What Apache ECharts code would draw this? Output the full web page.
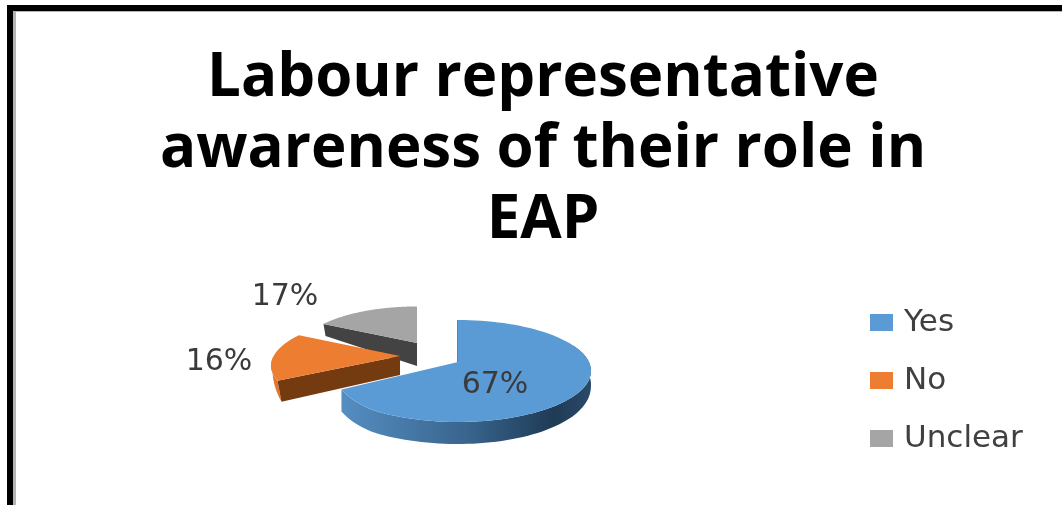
<!DOCTYPE html>
<html>
<head>
<meta charset="utf-8">
<style>html,body{margin:0;padding:0;background:#fff}#chart{width:1062px;height:505px}</style>
<script src="https://cdn.jsdelivr.net/npm/echarts@6/dist/echarts.min.js"></script>
</head>
<body>
<div id="chart"></div>
<script>
// Survey shares, in percent
const sliceNames = ['Yes', 'No', 'Unclear'];
const sliceShares = [67, 16, 17];
const chartTitle = 'Labour representative\nawareness of their role in\nEAP';

// Look of each exploded wedge: where its tip sits, its disc's shape, its colours
const wedgeLook = [
  { tipX: 458, tipY: 362, drop: 9, radiusY: 51, scale: 1, widen: 0, tilt: 0, endLift: 6, top: '#5b9bd5', z: 1, labelX: 495, labelY: 385,
    tipDepth: 21, edgeDepth: 22, lean: 0, rimTaper: 1,
    rim: { type: 'linear', x: 0, y: 0, x2: 1, y2: 0, colorStops: [
      { offset: 0, color: '#558ec2' }, { offset: 0.5, color: '#39658e' }, { offset: 0.85, color: '#1f3b56' }, { offset: 1, color: '#2a4a68' }] },
    cut: '#2f5577' },
  { tipX: 400, tipY: 356, drop: 0, radiusY: 49.4, scale: 0.95, widen: 0.2, tilt: 0.176, endLift: 0, top: '#ed7d31', z: 3, labelX: 219, labelY: 362,
    tipDepth: 19, edgeDepth: 21, lean: 4, rimTaper: 0.5,
    rim: '#e0752c', cut: '#743b10' },
  { tipX: 417, tipY: 343, drop: 0, radiusY: 49.4, scale: 0.87, widen: 0.176, tilt: 0.176, endLift: 0, top: '#a5a5a5', z: 2, labelX: 285, labelY: 297,
    tipDepth: 23, edgeDepth: 12, lean: 2, rimTaper: 0,
    rim: '#8a8a8a', cut: '#434343' }
];

// Tilted-disc projection
const radiusX = 133;
const total = sliceShares.reduce((a, b) => a + b, 0);
const startShare = sliceShares.map((_, i) => sliceShares.slice(0, i).reduce((a, b) => a + b, 0));

function project(look, theta, sweepEnd) {
  const u = Math.sin(theta), v = -Math.cos(theta);
  const sx = look.scale / (1 - look.widen * v);
  const sy = look.scale / (1 - look.tilt * v);
  // The last stretch of the arc flattens a little toward the wedge's far corner
  const t = Math.max(0, (theta - (sweepEnd - 0.45)) / 0.45);
  return [look.tipX + radiusX * u * sx, look.tipY + look.drop + look.radiusY * v * sy - look.endLift * t * t];
}

// Wall height along the big wedge: shallow at its right silhouette, full at the front
function rimDepth(look, theta) {
  if (theta >= Math.PI) return look.edgeDepth;
  return 13 + (look.edgeDepth - 13) * Math.sqrt(Math.max(0, -Math.cos(theta)));
}

function renderWedge(index) {
  return function (params, api) {
    const share = api.value(0);
    const look = wedgeLook[index];
    const a0 = startShare[index] / total * Math.PI * 2;
    const a1 = a0 + share / total * Math.PI * 2;
    const steps = 96;
    const angleAt = i => a0 + (a1 - a0) * i / steps;
    const arc = [];
    for (let i = 0; i <= steps; i++) arc.push(project(look, angleAt(i), a1));
    const tip = [look.tipX, look.tipY];
    const first = arc[0];
    const children = [];

    if (index === 0) {
      // The wall follows the front of the arc, up to the far end of the wedge
      const from = Math.round(steps * 0.25);
      const along = arc.slice(from);
      const under = along.map((p, i) => [p[0], p[1] + rimDepth(look, angleAt(from + i))]);
      children.push({ type: 'polygon', shape: { points: along.concat(under.reverse()) }, style: { fill: look.rim } });
      children.push({ type: 'line', shape: { x1: first[0], y1: first[1], x2: tip[0], y2: tip[1] },
        style: { stroke: look.cut, lineWidth: 1.5 } });
    } else {
      if (look.rimTaper > 0) {
        // Outer wall narrowing to nothing where the silhouette turns away
        const n = Math.round(steps * look.rimTaper);
        const along = arc.slice(0, n + 1);
        const under = along.map((p, i) => {
          const f = 1 - i / n;
          return [p[0] + look.lean * f, p[1] + look.edgeDepth * f];
        });
        children.push({ type: 'polygon', shape: { points: along.concat(under.reverse()) }, style: { fill: look.rim } });
      }
      // Cut face turned toward the viewer
      children.push({ type: 'polygon', shape: { points: [
        first, tip,
        [tip[0], tip[1] + look.tipDepth],
        [first[0] + look.lean, first[1] + look.edgeDepth]
      ] }, style: { fill: look.cut } });
    }
    children.push({ type: 'polygon', shape: { points: [tip].concat(arc) }, style: { fill: look.top } });
    children.push({ type: 'text', style: {
      text: share + '%', x: look.labelX, y: look.labelY, align: 'center', verticalAlign: 'middle',
      fill: '#3a3a3a', font: '30px "DejaVu Sans"' } });
    return { type: 'group', children };
  };
}

const chart = echarts.init(document.getElementById('chart'), null, { renderer: 'canvas' });
chart.setOption({
  animation: false,
  backgroundColor: '#ffffff',
  title: {
    text: chartTitle, left: 538, top: 38, textAlign: 'center',
    textStyle: { fontFamily: '"Open Sans"', fontWeight: 'bold', fontSize: 60, lineHeight: 71, color: '#000000' }
  },
  legend: {
    orient: 'vertical', left: 865, top: 302, itemWidth: 23, itemHeight: 17, itemGap: 27,
    icon: 'rect', data: sliceNames,
    textStyle: { fontFamily: '"DejaVu Sans"', fontSize: 31, color: '#404040', padding: [0, 0, 0, 6] }
  },
  graphic: [
    { type: 'rect', shape: { x: 7, y: 5, width: 1055, height: 6 }, style: { fill: '#000' }, silent: true },
    { type: 'rect', shape: { x: 7, y: 5, width: 6, height: 500 }, style: { fill: '#000' }, silent: true },
    { type: 'rect', shape: { x: 13, y: 11, width: 3, height: 494 }, style: { fill: '#b4b4b4' }, silent: true },
    { type: 'rect', shape: { x: 13, y: 11, width: 1049, height: 1 }, style: { fill: '#b4b4b4' }, silent: true }
  ],
  series: sliceNames.map((name, i) => ({
    type: 'custom', name, coordinateSystem: 'none', z: wedgeLook[i].z,
    itemStyle: { color: wedgeLook[i].top },
    renderItem: renderWedge(i),
    data: [[sliceShares[i]]]
  }))
});
</script>
</body>
</html>
